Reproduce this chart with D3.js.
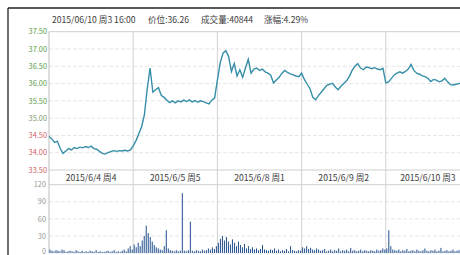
<!DOCTYPE html>
<html>
<head>
<meta charset="utf-8">
<script src="https://cdn.jsdelivr.net/npm/d3@7"></script>
<style>
  body { margin: 0; background: #fff; }
  svg { display: block; font-family: "Noto Sans CJK SC", "DejaVu Sans", sans-serif; }
</style>
</head>
<body>
<script>
// Les données (un point = ~8 minutes, une barre = ~6 minutes)
const jours = ["2015/6/4 周4", "2015/6/5 周5", "2015/6/8 周1", "2015/6/9 周2", "2015/6/10 周3"];
const prixTicks = [33.5, 34, 34.5, 35, 35.5, 36, 36.5, 37, 37.5];
const volTicks = [0, 30, 60, 90, 120];
const entete = ["2015/06/10 周3 16:00", "价位:36.26", "成交量:40844", "涨幅:4.29%"];

const prixJour1 = [34.47, 34.40, 34.30, 34.33, 34.12, 33.98, 34.05, 34.12, 34.08, 34.15,
  34.12, 34.16, 34.14, 34.18, 34.15, 34.19, 34.12, 34.10, 34.04, 33.98,
  33.96, 34.00, 34.03, 34.06, 34.04, 34.06, 34.05, 34.07, 34.05, 34.08];
const prixJour2 = [34.20, 34.35, 34.55, 34.75, 35.10, 35.85, 36.45, 35.75, 35.82, 35.88,
  35.66, 35.60, 35.52, 35.45, 35.50, 35.44, 35.50, 35.47, 35.52, 35.48,
  35.53, 35.47, 35.51, 35.46, 35.50, 35.48, 35.44, 35.41, 35.52, 35.58];
const prixJour3 = [36.10, 36.60, 36.88, 36.95, 36.78, 36.35, 36.58, 36.22, 36.40, 36.18,
  36.45, 36.70, 36.30, 36.42, 36.45, 36.38, 36.42, 36.34, 36.30, 36.24,
  36.02, 36.10, 36.18, 36.30, 36.38, 36.32, 36.28, 36.25, 36.22, 36.20];
const prixJour4 = [36.30, 36.12, 35.98, 35.85, 35.60, 35.53, 35.65, 35.75, 35.85, 35.95,
  35.98, 36.01, 35.90, 35.82, 35.92, 36.00, 36.08, 36.20, 36.38, 36.50,
  36.58, 36.45, 36.40, 36.48, 36.46, 36.43, 36.46, 36.42, 36.40, 36.44];
const prixJour5 = [36.02, 36.05, 36.15, 36.25, 36.30, 36.34, 36.30, 36.35, 36.42, 36.55,
  36.38, 36.30, 36.27, 36.22, 36.20, 36.15, 36.06, 36.12, 36.10, 36.05,
  36.08, 36.15, 36.05, 35.97, 35.96, 35.98, 36.00, 36.02, 36.05, 36.08];

const volJour1 = [6, 4, 3, 5, 4, 3, 6, 5, 2, 3, 4, 3, 2, 5, 3, 2, 4, 2, 3, 2, 4,
  3, 2, 5, 2, 3, 2, 2, 3, 4, 2, 3, 5, 2, 3, 2, 4, 6, 3, 8, 12, 6];
const volJour2 = [15, 10, 18, 12, 22, 30, 48, 35, 28, 20, 14, 10, 8, 6, 5, 12, 40, 8, 5, 4, 3,
  5, 3, 4, 105, 4, 3, 5, 55, 4, 3, 5, 4, 3, 6, 4, 5, 8, 6, 10, 7, 12];
const volJour3 = [18, 25, 30, 22, 28, 20, 15, 24, 18, 12, 20, 14, 10, 16, 8, 12, 7, 10, 6, 8, 5,
  7, 14, 6, 5, 4, 6, 5, 8, 4, 6, 3, 5, 4, 7, 3, 12, 5, 4, 3, 5, 4];
const volJour4 = [10, 8, 12, 7, 9, 6, 5, 8, 6, 4, 5, 7, 3, 4, 6, 3, 5, 4, 8, 3, 5,
  4, 6, 3, 9, 4, 5, 3, 4, 6, 3, 5, 4, 3, 5, 4, 3, 6, 4, 5, 8, 6];
const volJour5 = [8, 40, 12, 6, 5, 4, 6, 3, 5, 4, 7, 3, 4, 5, 3, 6, 4, 3, 5, 8, 4,
  3, 5, 4, 6, 3, 4, 9, 3, 4, 5, 3, 4, 6, 3, 4, 5, 3, 4, 3, 4, 3];

const prixJours = [prixJour1, prixJour2, prixJour3, prixJour4, prixJour5];
const volJours = [volJour1, volJour2, volJour3, volJour4, volJour5];

// On met tout à plat avec la position (jour + fraction du jour)
const prix = prixJours.flatMap((arr, j) => arr.map((v, i) => ({ t: j + i / arr.length, v: v })));
const volumes = volJours.flatMap((arr, j) => arr.map((v, i) => ({ t: j + i / arr.length, v: v })));

const width = 460, height = 255;
const left = 49;

const svg = d3.select("body")
  .append("svg")
  .attr("width", width)
  .attr("height", height);

// Echelles
const x = d3.scaleLinear().domain([0, 5]).range([left, 470]);
const y = d3.scaleLinear().domain([33.5, 37.5]).range([170, 31.7]);
const yVol = d3.scaleLinear().domain([0, 120]).range([253, 184.7]);

// Cadre noir (haut et gauche)
svg.append("line").attr("x1", 8).attr("x2", width).attr("y1", 8).attr("y2", 8)
  .attr("stroke", "#222").attr("stroke-width", 1.3);
svg.append("line").attr("x1", 8).attr("x2", 8).attr("y1", 8).attr("y2", height)
  .attr("stroke", "#222").attr("stroke-width", 1.3);

// Entête
const posEntete = [52, 148, 201, 264];
svg.append("g")
  .selectAll("text")
  .data(entete)
  .enter()
  .append("text")
  .attr("x", (d, i) => posEntete[i])
  .attr("y", 23)
  .attr("font-size", 8.6)
  .attr("fill", "#3c3c3c")
  .text(d => d);

// Grille horizontale prix
svg.append("g")
  .selectAll("line")
  .data(prixTicks)
  .enter()
  .append("line")
  .attr("x1", left).attr("x2", width)
  .attr("y1", d => y(d)).attr("y2", d => y(d))
  .attr("stroke", d => (d === 37.5 || d === 33.5) ? "#cfcfcf" : "#e6e6e6")
  .attr("stroke-dasharray", d => (d === 37.5 || d === 33.5) ? null : "4,2");

// Grille horizontale volume
svg.append("g")
  .selectAll("line")
  .data(volTicks)
  .enter()
  .append("line")
  .attr("x1", left).attr("x2", width)
  .attr("y1", d => yVol(d)).attr("y2", d => yVol(d))
  .attr("stroke", d => (d === 120) ? "#cfcfcf" : "#e6e6e6")
  .attr("stroke-dasharray", d => (d === 120) ? null : "4,2");

// Lignes verticales entre les jours + axe gauche
svg.append("g")
  .selectAll("line")
  .data([0, 1, 2, 3, 4])
  .enter()
  .append("line")
  .attr("x1", d => x(d)).attr("x2", d => x(d))
  .attr("y1", y(37.5)).attr("y2", yVol(0))
  .attr("stroke", d => d === 0 ? "#bdbdbd" : "#d2d2d2");

// Etiquettes de l'axe des prix (vert au-dessus, rouge en-dessous)
svg.append("g")
  .selectAll("text")
  .data(prixTicks)
  .enter()
  .append("text")
  .attr("x", left - 2)
  .attr("y", d => y(d) + 2.7)
  .attr("text-anchor", "end")
  .attr("font-size", 7.4)
  .attr("fill", d => d >= 35.5 ? "#5b9e4c" : (d === 35 ? "#7d9a70" : "#d2606a"))
  .text(d => d.toFixed(2));

// Etiquettes volume (le 0 est remonté pour rester dans l'image)
svg.append("g")
  .selectAll("text")
  .data(volTicks)
  .enter()
  .append("text")
  .attr("x", left - 3)
  .attr("y", d => Math.min(yVol(d) + 2.7, 253.5))
  .attr("text-anchor", "end")
  .attr("font-size", 7.4)
  .attr("fill", "#999")
  .text(d => d);

// Dates sous le graphique
svg.append("g")
  .selectAll("text")
  .data(jours)
  .enter()
  .append("text")
  .attr("x", (d, i) => x(i + 0.5))
  .attr("y", 180.5)
  .attr("text-anchor", "middle")
  .attr("font-size", 8.6)
  .attr("fill", "#3c3c3c")
  .text(d => d);

// Barres de volume
svg.append("g")
  .selectAll("rect")
  .data(volumes)
  .enter()
  .append("rect")
  .attr("x", d => x(d.t) + 0.5)
  .attr("y", d => yVol(d.v))
  .attr("width", 1)
  .attr("height", d => yVol(0) - yVol(d.v))
  .attr("fill", "#23508f");

// Courbe des prix
const ligne = d3.line()
  .x(d => x(d.t))
  .y(d => y(d.v));

svg.append("path")
  .datum(prix)
  .attr("d", ligne)
  .attr("fill", "none")
  .attr("stroke", "#358fa8")
  .attr("stroke-width", 1.4);
</script>
</body>
</html>
